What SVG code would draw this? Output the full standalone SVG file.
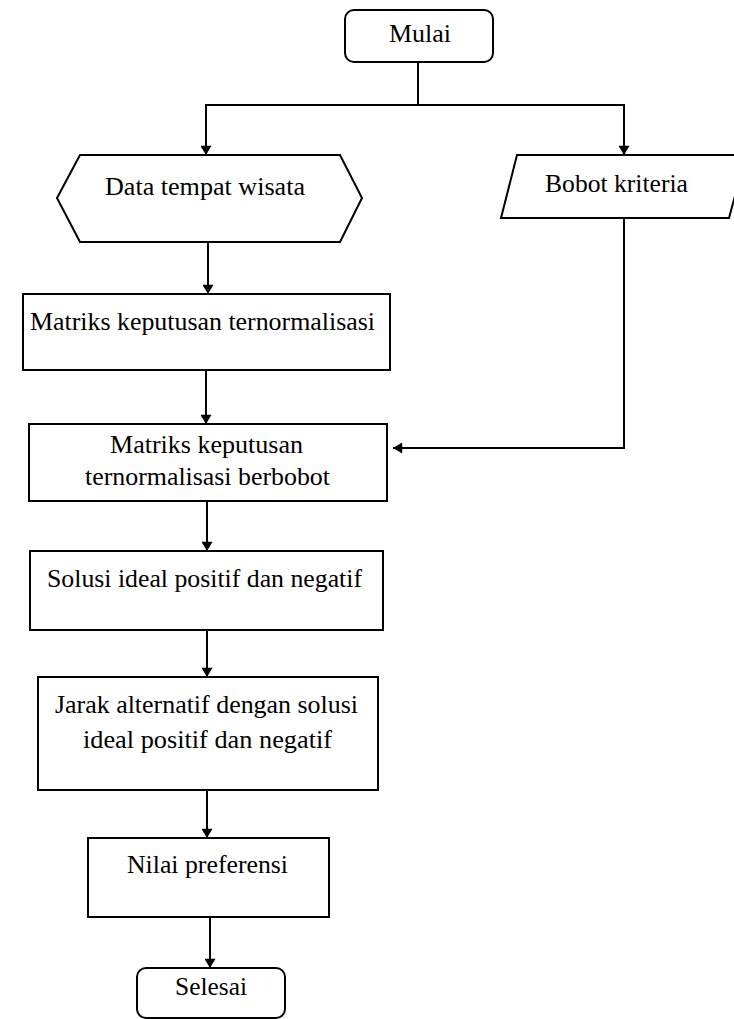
<svg xmlns="http://www.w3.org/2000/svg" width="734" height="1019" viewBox="0 0 734 1019">
<defs>
<marker id="arr" viewBox="0 0 10 12" refX="10" refY="6" markerWidth="12" markerHeight="11" markerUnits="userSpaceOnUse" orient="auto">
<path d="M0,0 L10,6 L0,12 Z" fill="#000"/>
</marker>
<style>
.s{fill:#fff;stroke:#000;stroke-width:2}
.c{fill:none;stroke:#000;stroke-width:2}
.t{font-family:"Liberation Serif",serif;font-size:25px;fill:#000}
</style>
</defs>
<rect width="734" height="1019" fill="#fff"/>
<g id="connectors">
<path class="c" d="M418,62 V105"/>
<path class="c" d="M624,105 H206 V155" marker-end="url(#arr)"/>
<path class="c" d="M418,105 H624 V155" marker-end="url(#arr)"/>
<path class="c" d="M208,242 V294" marker-end="url(#arr)"/>
<path class="c" d="M206,370 V424" marker-end="url(#arr)"/>
<path class="c" d="M624,218 V448 H393" marker-end="url(#arr)"/>
<path class="c" d="M207,501 V551" marker-end="url(#arr)"/>
<path class="c" d="M207,630 V677" marker-end="url(#arr)"/>
<path class="c" d="M207,790 V838" marker-end="url(#arr)"/>
<path class="c" d="M210,917 V968" marker-end="url(#arr)"/>
</g>
<g id="mulai">
<rect class="s" x="345" y="10" width="148" height="52" rx="9"/>
<text class="t" x="389" y="42" textLength="62" lengthAdjust="spacingAndGlyphs">Mulai</text>
</g>
<g id="data">
<polygon class="s" points="80,155 340,155 362,198 340,242 80,242 57,198"/>
<text class="t" x="105" y="195" textLength="200" lengthAdjust="spacingAndGlyphs">Data tempat wisata</text>
</g>
<g id="bobot">
<polygon class="s" points="517,155 746,155 729,218 501,218"/>
<text class="t" x="545" y="192" textLength="143" lengthAdjust="spacingAndGlyphs">Bobot kriteria</text>
</g>
<g id="matriks">
<rect class="s" x="23" y="294" width="367" height="76"/>
<text class="t" x="30" y="330" textLength="345" lengthAdjust="spacingAndGlyphs">Matriks keputusan ternormalisasi</text>
</g>
<g id="berbobot">
<rect class="s" x="29" y="424" width="358" height="77"/>
<text class="t" x="110" y="453" textLength="193" lengthAdjust="spacingAndGlyphs">Matriks keputusan</text>
<text class="t" x="85" y="485" textLength="245" lengthAdjust="spacingAndGlyphs">ternormalisasi berbobot</text>
</g>
<g id="solusi">
<rect class="s" x="30" y="551" width="353" height="79"/>
<text class="t" x="47" y="587" textLength="315" lengthAdjust="spacingAndGlyphs">Solusi ideal positif dan negatif</text>
</g>
<g id="jarak">
<rect class="s" x="38" y="677" width="340" height="113"/>
<text class="t" x="55" y="713" textLength="303" lengthAdjust="spacingAndGlyphs">Jarak alternatif dengan solusi</text>
<text class="t" x="83" y="748" textLength="249" lengthAdjust="spacingAndGlyphs">ideal positif dan negatif</text>
</g>
<g id="nilai">
<rect class="s" x="88" y="838" width="241" height="79"/>
<text class="t" x="127" y="873" textLength="161" lengthAdjust="spacingAndGlyphs">Nilai preferensi</text>
</g>
<g id="selesai">
<rect class="s" x="137" y="968" width="148" height="50" rx="9"/>
<text class="t" x="175" y="995" textLength="72" lengthAdjust="spacingAndGlyphs">Selesai</text>
</g>
</svg>
